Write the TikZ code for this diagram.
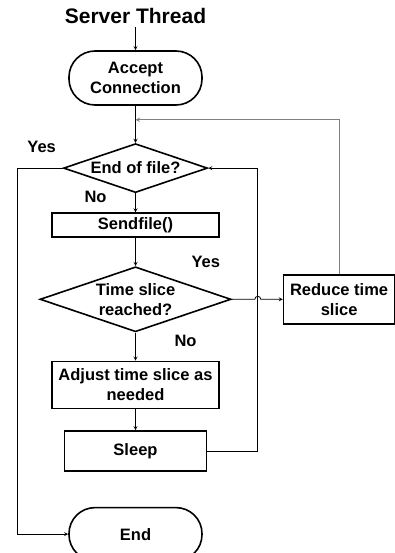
\documentclass[tikz,border=0pt]{standalone}
\usepackage{fontspec}
\setmainfont{Liberation Sans}
\usetikzlibrary{positioning,shapes,arrows,calc}

\begin{document}
\begin{tikzpicture}[x=1pt, y=1pt, >=stealth,
    font=\fontsize{16.5}{20}\selectfont\bfseries,
    term/.style = {draw, line width=1.6pt, rounded corners=26pt, minimum width=133pt, minimum height=53pt, align=center, inner sep=0pt},
    proc/.style = {draw, line width=1.6pt, minimum width=167pt, align=center, inner sep=0pt},
    decide/.style = {draw, diamond, line width=1.6pt, align=center, inner sep=0pt, aspect=2.9},
    flow/.style = {line width=0.8pt},
    back/.style = {line width=1pt, draw=gray}]
            \useasboundingbox (0,0) rectangle (394,-553);
            \node[term, minimum height=54pt] (accept) at (135.5,-78) {Accept\\Connection};
            \node (title) [above=23pt of accept, inner sep=3pt, font=\fontsize{21}{25}\selectfont\bfseries] {Server Thread};
            \node[decide, minimum width=144pt, minimum height=49pt] (eof) [below=37pt of accept] {End of file?};
            \node[proc, minimum height=24pt] (send) [below=19pt of eof] {Sendfile()};
            \node[decide, minimum width=191pt, minimum height=65pt] (slice) [below=28pt of send] {Time slice\\reached?};
            \node[proc, minimum height=47pt] (adjust) [below=28pt of slice] {Adjust time slice as\\needed};
            \node[proc, minimum width=142pt, minimum height=40pt] (sleep) [below=21pt of adjust] {Sleep};
            \node[term] (end) [below=35pt of sleep] {End};
            \node[proc, minimum width=111pt, minimum height=49pt] (reduce) [right=51pt of slice] {Reduce time\\slice};
            \coordinate[below=14pt of accept.south] (merge);
            % labels
            \node (yes1) at ($(eof.west)+(-21,21)$) {Yes};
            \node (no1) at ($(eof.south)+(-40,-4)$) {No};
            \node (yes2) at ($(slice.east)+(-26,37)$) {Yes};
            \node (no2) at ($(slice.south)+(50,-8)$) {No};
            % connectors
            \draw[flow,->] (title) -- (accept);
            \draw[flow,->] (accept) -- (eof);
            \draw[flow,->] (eof) -- (send);
            \draw[flow,->] (send) -- (slice);
            \draw[flow,->] (slice) -- (adjust);
            \draw[flow,->] (adjust) -- (sleep);
            \draw[flow,->] (eof.west) -- ++(-45,0) |- (end.west);
            \draw[flow,->] (sleep.east) -- ++(50,0) |- (eof.east);
            \draw[flow,->] (slice.east) -- ($(slice.east)+(23,0)$) arc[start angle=180, end angle=0, radius=3pt] -- (reduce.west);
            \draw[back,->] (reduce.north) |- (merge);
        \end{tikzpicture}
\end{document}
